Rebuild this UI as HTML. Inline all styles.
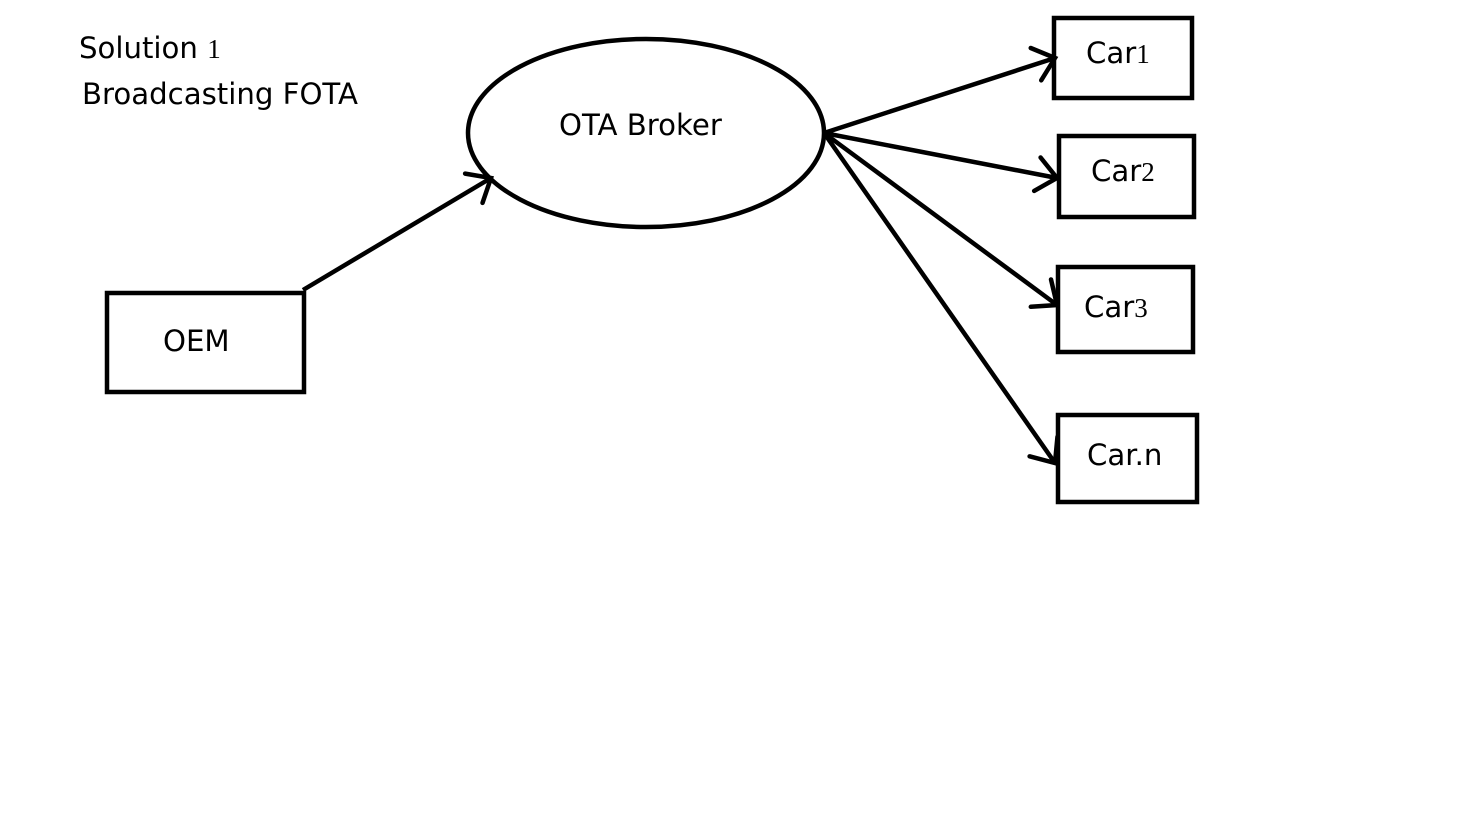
<!DOCTYPE html>
<html><head><meta charset="utf-8"><style>
html,body{margin:0;padding:0;background:#fff;}
svg{display:block;}
text{font-family:"DejaVu Sans","Liberation Sans",sans-serif;font-size:29.2px;fill:#000;}
.d{font-family:"Liberation Serif",serif;font-size:27px;}
</style></head><body>
<svg width="1474" height="821" viewBox="0 0 1474 821" xmlns="http://www.w3.org/2000/svg">
<defs>
<marker id="a" markerUnits="userSpaceOnUse" markerWidth="40" markerHeight="40" refX="0" refY="0" viewBox="-25 -20 30 40" orient="auto" overflow="visible">
<path d="M-20,-17 L0,0 L-20,17" fill="none" stroke="#000" stroke-width="4.5" stroke-linecap="round" stroke-linejoin="miter"/>
</marker>
</defs>
<g fill="none" stroke="#000" stroke-width="4.5">
<rect x="107" y="293" width="197" height="99"/>
<ellipse cx="646" cy="133" rx="178" ry="94"/>
<rect x="1054" y="18" width="138" height="80"/>
<rect x="1059" y="136" width="135" height="81"/>
<rect x="1058" y="267" width="135" height="85"/>
<rect x="1058" y="415" width="139" height="87"/>
<line x1="303" y1="290" x2="491" y2="178" marker-end="url(#a)"/>
<line x1="824" y1="133" x2="1055" y2="58" marker-end="url(#a)"/>
<line x1="824" y1="133" x2="1057" y2="178" marker-end="url(#a)"/>
<line x1="824" y1="133" x2="1057" y2="305" marker-end="url(#a)"/>
<line x1="824" y1="133" x2="1055" y2="463" marker-end="url(#a)"/>
</g>
<text x="79" y="58">Solution <tspan class="d">1</tspan></text>
<text x="82" y="104">Broadcasting FOTA</text>
<text x="559" y="135">OTA Broker</text>
<text x="163" y="351">OEM</text>
<text x="1086" y="63">Car<tspan class="d">1</tspan></text>
<text x="1091" y="181">Car<tspan class="d">2</tspan></text>
<text x="1084" y="317">Car<tspan class="d">3</tspan></text>
<text x="1087" y="465">Car.n</text>
</svg>
</body></html>
